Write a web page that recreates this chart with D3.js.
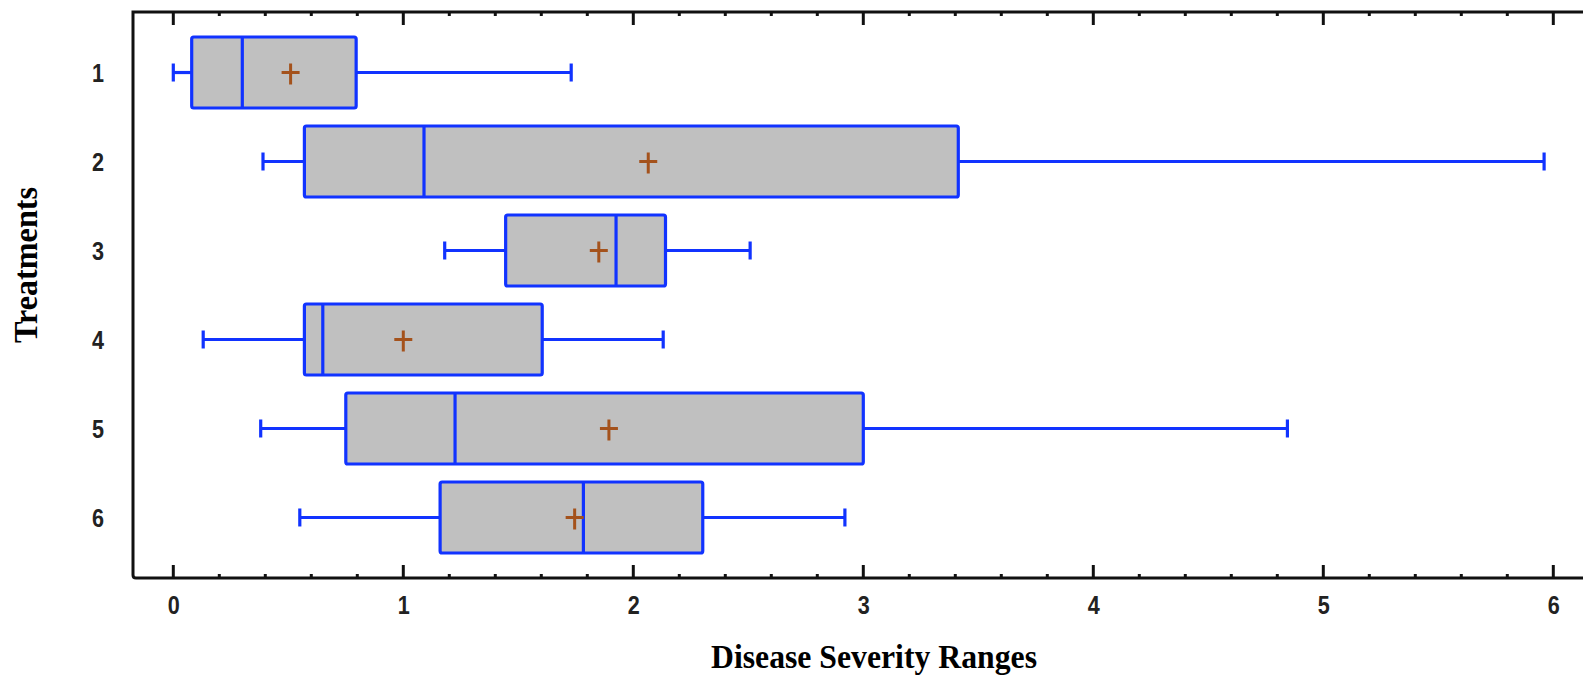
<!DOCTYPE html>
<html>
<head>
<meta charset="utf-8">
<script src="https://cdn.jsdelivr.net/npm/d3@7"></script>
<style>
  html, body { margin: 0; padding: 0; background: #fff; }
  svg { display: block; }
</style>
</head>
<body>
<svg id="chart" width="1583" height="678"></svg>
<script>
// Box-and-whisker summary of disease severity per treatment
const treatments = ["1", "2", "3", "4", "5", "6"];
const minValues    = [0.00, 0.39, 1.18, 0.13, 0.38, 0.55];
const q1Values     = [0.08, 0.57, 1.445, 0.57, 0.75, 1.16];
const medianValues = [0.30, 1.09, 1.925, 0.65, 1.225, 1.783];
const meanValues   = [0.51, 2.065, 1.85, 1.00, 1.894, 1.745];
const q3Values     = [0.795, 3.413, 2.14, 1.604, 3.00, 2.302];
const maxValues    = [1.73, 5.96, 2.508, 2.13, 4.844, 2.92];
const xTickValues  = [0, 1, 2, 3, 4, 5, 6];

const xTitle = "Disease Severity Ranges";
const yTitle = "Treatments";

const svg = d3.select("#chart");
const W = 1583, H = 678;
const plotLeft = 133, plotTop = 12, plotBottom = 578;

const boxColor = "#1133ff";
const boxFill = "#c0c0c0";
const meanColor = "#a4521c";

const x = d3.scaleLinear().domain([0, 6]).range([173.3, 1553.3]);
const y = d3.scalePoint().domain(treatments).range([plotTop, plotBottom]).padding(0.68);

const rows = treatments.map((t, i) => ({
  t, min: minValues[i], q1: q1Values[i], med: medianValues[i],
  mean: meanValues[i], q3: q3Values[i], max: maxValues[i]
}));

// frame: left line, top line and bottom line
const axisColor = "#111";
svg.append("path")
  .attr("d", `M${W},${plotTop} H${plotLeft} V${plotBottom - 3} Q${plotLeft},${plotBottom} ${plotLeft + 3},${plotBottom} H${W}`)
  .attr("fill", "none").attr("stroke", axisColor).attr("stroke-width", 3);

// major and minor ticks along the top and bottom edges
const minorTicks = d3.range(0, 30).map(i => i / 5).filter(v => Math.abs(v - Math.round(v)) > 1e-6);
const axisG = svg.append("g");
function ticks(vals, len, width) {
  vals.forEach(v => {
    axisG.append("line").attr("x1", x(v)).attr("x2", x(v))
      .attr("y1", plotTop).attr("y2", plotTop + len)
      .attr("stroke", axisColor).attr("stroke-width", width);
    axisG.append("line").attr("x1", x(v)).attr("x2", x(v))
      .attr("y1", plotBottom).attr("y2", plotBottom - len)
      .attr("stroke", axisColor).attr("stroke-width", width);
  });
}
ticks(xTickValues, 13, 3);
ticks(minorTicks, 4, 3);

const labelFont = "'Liberation Sans Narrow', 'Arial Narrow', 'Liberation Sans', sans-serif";

// bottom axis labels
const xAxis = d3.axisBottom(x).tickValues(xTickValues).tickFormat(d3.format("d")).tickSize(0);
const xg = svg.append("g").attr("transform", `translate(0,${plotBottom})`).call(xAxis);
xg.select(".domain").remove();
xg.selectAll("text")
  .attr("dy", 0).attr("y", 36)
  .attr("textLength", 12).attr("lengthAdjust", "spacingAndGlyphs")
  .style("font-family", labelFont)
  .style("font-weight", "bold").style("font-size", "25px").attr("fill", "#222");

// left axis labels
const yAxis = d3.axisLeft(y).tickSize(0);
const yg = svg.append("g").attr("transform", `translate(${plotLeft},0)`).call(yAxis);
yg.select(".domain").remove();
yg.selectAll("text")
  .attr("x", -35).attr("dy", "0.35em")
  .attr("text-anchor", "middle")
  .attr("textLength", 12).attr("lengthAdjust", "spacingAndGlyphs")
  .style("font-family", labelFont)
  .style("font-weight", "bold").style("font-size", "25px").attr("fill", "#222");

// boxes
const boxH = 71, capH = 18, sw = 3.2;
const g = svg.append("g");
const rowG = g.selectAll("g.row").data(rows).join("g").attr("class", "row");

rowG.append("line") // lower whisker
  .attr("x1", d => x(d.min)).attr("x2", d => x(d.q1))
  .attr("y1", d => y(d.t)).attr("y2", d => y(d.t))
  .attr("stroke", boxColor).attr("stroke-width", sw);
rowG.append("line") // upper whisker
  .attr("x1", d => x(d.q3)).attr("x2", d => x(d.max))
  .attr("y1", d => y(d.t)).attr("y2", d => y(d.t))
  .attr("stroke", boxColor).attr("stroke-width", sw);
rowG.append("line") // lower cap
  .attr("x1", d => x(d.min)).attr("x2", d => x(d.min))
  .attr("y1", d => y(d.t) - capH / 2).attr("y2", d => y(d.t) + capH / 2)
  .attr("stroke", boxColor).attr("stroke-width", sw);
rowG.append("line") // upper cap
  .attr("x1", d => x(d.max)).attr("x2", d => x(d.max))
  .attr("y1", d => y(d.t) - capH / 2).attr("y2", d => y(d.t) + capH / 2)
  .attr("stroke", boxColor).attr("stroke-width", sw);
rowG.append("rect") // interquartile box
  .attr("x", d => x(d.q1)).attr("width", d => x(d.q3) - x(d.q1))
  .attr("y", d => y(d.t) - boxH / 2).attr("height", boxH)
  .attr("rx", 2).attr("ry", 2)
  .attr("fill", boxFill).attr("stroke", boxColor).attr("stroke-width", sw);
rowG.append("line") // median
  .attr("x1", d => x(d.med)).attr("x2", d => x(d.med))
  .attr("y1", d => y(d.t) - boxH / 2).attr("y2", d => y(d.t) + boxH / 2)
  .attr("stroke", boxColor).attr("stroke-width", sw);

// mean markers
const mw = 9, mh = 11;
rowG.append("path")
  .attr("d", d => {
    const cx = x(d.mean), cy = y(d.t);
    return `M${cx - mw},${cy} H${cx + mw} M${cx},${cy - mh + 2} V${cy + mh + 1}`;
  })
  .attr("stroke", meanColor).attr("stroke-width", 3).attr("fill", "none");

// axis titles
const titleFont = "'Liberation Serif', 'Times New Roman', serif";
svg.append("text")
  .attr("x", 874).attr("y", 668)
  .attr("text-anchor", "middle")
  .attr("textLength", 326).attr("lengthAdjust", "spacingAndGlyphs")
  .style("font-family", titleFont)
  .style("font-weight", "bold").style("font-size", "33px")
  .attr("fill", "#000")
  .text(xTitle);

svg.append("text")
  .attr("transform", "translate(37,265) rotate(-90)")
  .attr("text-anchor", "middle")
  .attr("textLength", 156).attr("lengthAdjust", "spacingAndGlyphs")
  .style("font-family", titleFont)
  .style("font-weight", "bold").style("font-size", "33px")
  .attr("fill", "#000")
  .text(yTitle);
</script>
</body>
</html>
